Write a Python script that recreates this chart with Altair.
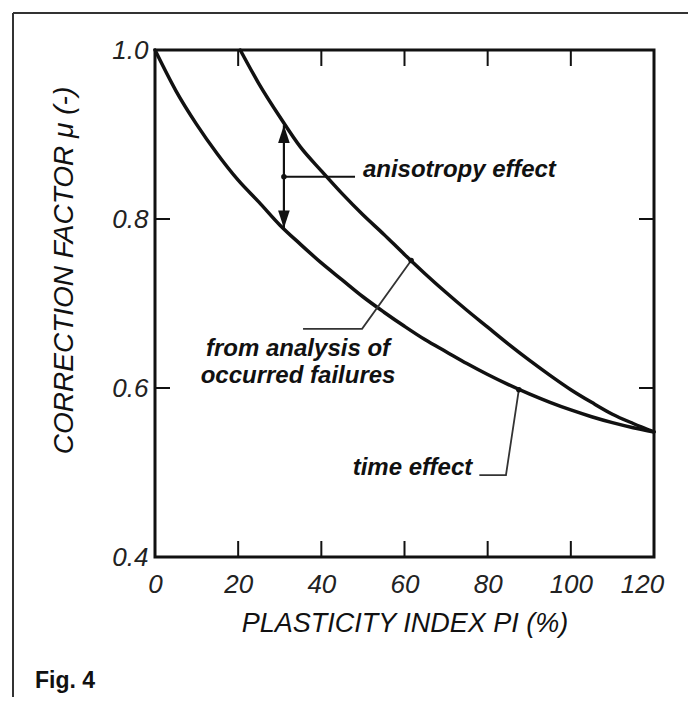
import altair as alt
import pandas as pd

# ---- data ----
pi_lower = [0, 5, 10, 15, 20, 25, 30, 35, 40, 45, 50, 55, 60, 65, 70, 75, 80, 85, 90, 95, 100, 105, 110, 115, 120]
mu_lower = [1.0, 0.952, 0.912, 0.877, 0.846, 0.82, 0.793, 0.77, 0.748, 0.728, 0.708, 0.69, 0.673, 0.657, 0.643,
            0.629, 0.616, 0.604, 0.593, 0.583, 0.574, 0.566, 0.559, 0.553, 0.548]
pi_upper = [20.5, 25, 30, 35, 40, 45, 50, 55, 60, 65, 70, 75, 80, 85, 90, 95, 100, 105, 110, 115, 120]
mu_upper = [1.0, 0.96, 0.921, 0.885, 0.857, 0.83, 0.805, 0.782, 0.758, 0.735, 0.713, 0.692, 0.672, 0.652,
            0.633, 0.615, 0.598, 0.583, 0.569, 0.558, 0.548]

x_labels = [0, 20, 40, 60, 80, 100, 120]
y_labels = [0.4, 0.6, 0.8, 1.0]
x_inner_ticks = [20, 40, 60, 80, 100]
y_inner_ticks = [0.6, 0.8]

x_title = "PLASTICITY INDEX PI (%)"
y_title = "CORRECTION FACTOR  \u03bc (-)"

# annotations
aniso_pi = 31.0
aniso_lo, aniso_hi, aniso_mid = 0.789, 0.911, 0.85
aniso_line_end = 48.1
aniso_text = "anisotropy effect"
aniso_text_pi = 50.0

fail_path_pi = [61.6, 49.8, 35.6]
fail_path_mu = [0.751, 0.670, 0.670]
fail_text = ["from analysis of", "occurred failures"]
fail_text_pi = [34.4, 34.4]
fail_text_mu = [0.638, 0.606]

time_path_pi = [78.0, 84.4, 87.5]
time_path_mu = [0.497, 0.497, 0.598]
time_text = "time effect"
time_text_pi = 76.3
time_text_mu = 0.497

FONT = "Liberation Sans"
W, H = 499, 507

xscale = alt.Scale(domain=[0, 120], nice=False, zero=False)
yscale = alt.Scale(domain=[0.4, 1.0], nice=False, zero=False)

xaxis = alt.Axis(
    values=x_labels, title=x_title, grid=False, ticks=False, domain=False,
    labelFont=FONT, labelFontStyle="italic", labelFontSize=26, labelColor="#222",
    labelPadding=14, labelFlush=False, labelOverlap=False,
    labelOffset={"condition": {"test": "datum.value == 120", "value": -12}, "value": 0},
    titleFont=FONT, titleFontStyle="italic", titleFontWeight="normal", titleFontSize=27,
    titleColor="#111", titleY=66, titleBaseline="middle",
)
yaxis = alt.Axis(
    values=y_labels, format=".1f", title=y_title, grid=False, ticks=False, domain=False,
    labelFont=FONT, labelFontStyle="italic", labelFontSize=26, labelColor="#222",
    labelPadding=7, labelFlush=False, labelOverlap=False,
    titleFont=FONT, titleFontStyle="italic", titleFontWeight="normal", titleFontSize=28,
    titleColor="#111", titleX=-91, titleY=220, titleAngle=270, titleBaseline="middle", titleAlign="center",
)


def X(field="x"):
    return alt.X(f"{field}:Q", scale=xscale, axis=xaxis)


def Y(field="y"):
    return alt.Y(f"{field}:Q", scale=yscale, axis=yaxis)


curves = pd.DataFrame(
    {"x": pi_lower + pi_upper,
     "y": mu_lower + mu_upper,
     "s": ["lower"] * len(pi_lower) + ["upper"] * len(pi_upper),
     "o": list(range(len(pi_lower))) + list(range(len(pi_upper)))}
)
curve_layer = alt.Chart(curves).mark_line(
    color="#111", strokeWidth=3.5, interpolate="monotone", strokeCap="round"
).encode(x=X(), y=Y(), detail="s:N", order="o:Q")

# inner ticks
xt = pd.DataFrame({"x": x_inner_ticks})
yt = pd.DataFrame({"y": y_inner_ticks})
tick_style = dict(color="#111", strokeWidth=2)
tick_bottom = alt.Chart(xt).mark_rule(**tick_style).encode(x=X(), y=alt.value(H), y2=alt.value(H - 16))
tick_top = alt.Chart(xt).mark_rule(**tick_style).encode(x=X(), y=alt.value(0), y2=alt.value(16))
tick_left = alt.Chart(yt).mark_rule(**tick_style).encode(y=Y(), x=alt.value(0), x2=alt.value(15))
tick_right = alt.Chart(yt).mark_rule(**tick_style).encode(y=Y(), x=alt.value(W), x2=alt.value(W - 15))

# anisotropy arrow
aniso_df = pd.DataFrame({"x": [aniso_pi], "y": [aniso_lo], "y2": [aniso_hi]})
aniso_rule = alt.Chart(aniso_df).mark_rule(color="#111", strokeWidth=2.2).encode(
    x=X(), y=Y(), y2="y2:Q")
tri_up = alt.Chart(pd.DataFrame({"x": [aniso_pi], "y": [aniso_hi - 0.0105]})).mark_point(
    shape="M0,-1L0.65,1L-0.65,1Z", filled=True, color="#111", opacity=1, size=320, strokeWidth=0
).encode(x=X(), y=Y())
tri_dn = alt.Chart(pd.DataFrame({"x": [aniso_pi], "y": [aniso_lo + 0.0105]})).mark_point(
    shape="M0,1L0.65,-1L-0.65,-1Z", filled=True, color="#111", opacity=1, size=320, strokeWidth=0
).encode(x=X(), y=Y())
aniso_h = alt.Chart(pd.DataFrame({"x": [aniso_pi], "x2": [aniso_line_end], "y": [aniso_mid]})).mark_rule(
    color="#111", strokeWidth=2).encode(x=X(), x2="x2:Q", y=Y())
aniso_label = alt.Chart(pd.DataFrame({"x": [aniso_text_pi], "y": [aniso_mid], "t": [aniso_text]})).mark_text(
    font=FONT, fontSize=24, fontWeight="bold", fontStyle="italic", align="left", baseline="alphabetic",
    color="#111").encode(x=X(), y=Y(), text="t:N")

# failure connector
fail_df = pd.DataFrame({"x": fail_path_pi, "y": fail_path_mu, "o": [0, 1, 2]})
fail_line = alt.Chart(fail_df).mark_line(color="#333", strokeWidth=1.8).encode(x=X(), y=Y(), order="o:Q")
fail_labels = alt.Chart(pd.DataFrame({"x": fail_text_pi, "y": fail_text_mu, "t": fail_text})).mark_text(
    font=FONT, fontSize=24, fontWeight="bold", fontStyle="italic", align="center", baseline="alphabetic",
    color="#111").encode(x=X(), y=Y(), text="t:N")

# time connector
time_df = pd.DataFrame({"x": time_path_pi, "y": time_path_mu, "o": [0, 1, 2]})
time_line = alt.Chart(time_df).mark_line(color="#333", strokeWidth=1.8).encode(x=X(), y=Y(), order="o:Q")
time_label = alt.Chart(pd.DataFrame({"x": [time_text_pi], "y": [time_text_mu], "t": [time_text]})).mark_text(
    font=FONT, fontSize=24, fontWeight="bold", fontStyle="italic", align="right", baseline="alphabetic",
    color="#111").encode(x=X(), y=Y(), text="t:N")

# dots
dots = pd.DataFrame({"x": [aniso_pi, fail_path_pi[0], time_path_pi[-1]],
                     "y": [aniso_mid, fail_path_mu[0], time_path_mu[-1]]})
dot_layer = alt.Chart(dots).mark_circle(color="#111", size=30, opacity=1).encode(x=X(), y=Y())

# decorative frame of the figure and caption
frame_top = alt.Chart(pd.DataFrame({"a": [0]})).mark_rule(color="#333", strokeWidth=2).encode(
    x=alt.value(-142), x2=alt.value(560), y=alt.value(-37))
frame_left = alt.Chart(pd.DataFrame({"a": [0]})).mark_rule(color="#333", strokeWidth=2).encode(
    x=alt.value(-142), y=alt.value(-37), y2=alt.value(700))
caption = alt.Chart(pd.DataFrame({"t": ["Fig. 4"]})).mark_text(
    font=FONT, fontSize=23, fontWeight="bold", align="left", baseline="alphabetic", color="#111"
).encode(x=alt.value(-120), y=alt.value(638), text="t:N")

chart = alt.layer(
    curve_layer, tick_bottom, tick_top, tick_left, tick_right,
    aniso_rule, tri_up, tri_dn, aniso_h, aniso_label,
    fail_line, fail_labels, time_line, time_label, dot_layer,
    frame_top, frame_left, caption,
).properties(
    width=W, height=H,
    autosize=alt.AutoSizeParams(type="none"),
    padding={"left": 147, "top": 42, "right": 34, "bottom": 140},
    background="white",
).configure_view(stroke="#111", strokeWidth=3)

chart.save("out.html", embed_options={"renderer": "svg", "actions": False})
